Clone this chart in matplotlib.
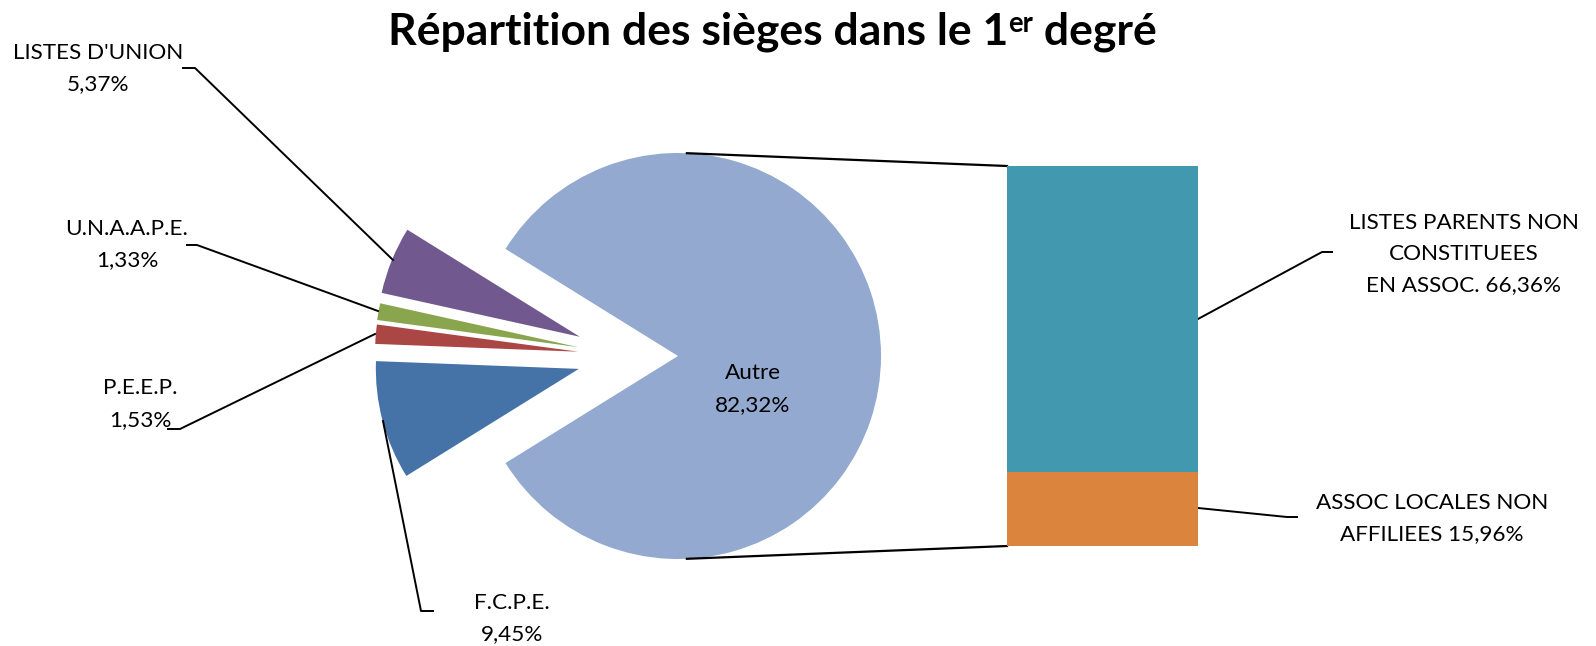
import matplotlib
matplotlib.use('Agg')
import matplotlib.pyplot as plt
from matplotlib.patches import Wedge
import numpy as np

plt.rcParams['font.family'] = ['Lato', 'DejaVu Sans']

# data
pie_labels = ["LISTES D'UNION", "U.N.A.A.P.E.", "P.E.E.P.", "F.C.P.E."]
pie_values = [5.37, 1.33, 1.53, 9.45]
pie_colors = ['#71588F', '#89A54E', '#AA4643', '#4572A7']
other_label = 'Autre'
other_value = 82.32
bar_labels = ['ASSOC LOCALES NON\nAFFILIEES', 'LISTES PARENTS NON\nCONSTITUEES\nEN ASSOC.']
bar_values = [15.96, 66.36]
bar_colors = ['#DB843D', '#4198AF']
other_color = '#93A9CF'

W, H = 1596, 646
fig = plt.figure(figsize=(W / 100, H / 100), dpi=100)
ax = fig.add_axes([0, 0, 1, 1])
ax.set_xlim(0, W)
ax.set_ylim(0, H)
ax.axis('off')


def Y(y):
    # pixel row (from top) -> axes y
    return H - y


def pct(v):
    return f'{v:.2f}'.replace('.', ',') + '%'


# pie
cx, cy, r = 678, Y(356), 203
total = other_value + sum(pie_values)
half = other_value / total * 360 / 2
ax.add_patch(Wedge((cx, cy), r, -half, half, color=other_color, lw=0))

start = half
explode = 100
for lab, v, col in zip(pie_labels, pie_values, pie_colors):
    span = v / total * 360
    mid = start + span / 2
    d = np.radians(180 + (mid - 180) / 2)
    ox, oy = cx + explode * np.cos(d), cy + explode * np.sin(d)
    ax.add_patch(Wedge((ox, oy), r, start, start + span, color=col, lw=0))
    start += span

# bar of "Autre"
bx0, bx1, by0, by1 = 1007, 1198, 166, 546
bax = fig.add_axes([bx0 / W, Y(by1) / H, (bx1 - bx0) / W, (by1 - by0) / H])
bottom = 0
for v, col in zip(bar_values, bar_colors):
    bax.bar(0, v, bottom=bottom, width=1, color=col, lw=0)
    bottom += v
bax.set_xlim(-0.5, 0.5)
bax.set_ylim(0, sum(bar_values))
bax.axis('off')

# connector lines pie -> bar
a = np.radians(87.5)
ax.plot([cx + r * np.cos(a), bx0], [cy + r * np.sin(a), Y(by0)], color='black', lw=1.6)
ax.plot([cx + r * np.cos(a), bx0], [cy - r * np.sin(a), Y(by1)], color='black', lw=1.6)

lw = 1.4
fs = 16.2
# leader lines
ax.plot([183, 195, 393], [Y(68), Y(68), Y(260)], color='black', lw=lw)
ax.plot([187, 197, 378], [Y(245), Y(245), Y(311)], color='black', lw=lw)
ax.plot([168, 180, 375], [Y(429), Y(429), Y(334)], color='black', lw=lw)
ax.plot([433, 421, 383], [Y(611), Y(611), Y(421)], color='black', lw=lw)
ax.plot([1198, 1322, 1332], [Y(319), Y(252), Y(252)], color='black', lw=lw)
ax.plot([1198, 1287, 1297], [Y(508), Y(517), Y(517)], color='black', lw=lw)

# labels
lab_pos = [(98, 68.5), (127, 244.5), (140, 404), (512, 618.5)]
for (x, y), lab, v in zip(lab_pos, pie_labels, pie_values):
    ax.text(x, Y(y), lab + '\n' + pct(v), ha='center', va='center',
            fontsize=fs, linespacing=1.7)
ax.text(753, Y(389), other_label + '\n' + pct(other_value), ha='center', va='center',
        fontsize=fs, linespacing=1.7)
ax.text(1432, Y(518.5), bar_labels[0] + ' ' + pct(bar_values[0]), ha='center', va='center',
        fontsize=fs, linespacing=1.7)
ax.text(1464, Y(254), bar_labels[1] + ' ' + pct(bar_values[1]), ha='center', va='center',
        fontsize=fs, linespacing=1.7)

# title with superscript
renderer = fig.canvas.get_renderer()
tfs = 32
parts = [('Répartition des sièges dans le 1', tfs, 0), ('er', tfs * 0.62, 13), (' degré', tfs, 0)]
texts = []
widths = []
for s, size, dy in parts:
    t = ax.text(0, 0, s, fontsize=size, fontweight='bold', ha='left', va='baseline')
    widths.append(t.get_window_extent(renderer).width)
    texts.append(t)
x = 772 - sum(widths) / 2
for t, w, (s, size, dy) in zip(texts, widths, parts):
    t.set_position((x, Y(45) + dy))
    x += w

fig.savefig('out.png', dpi=100)
